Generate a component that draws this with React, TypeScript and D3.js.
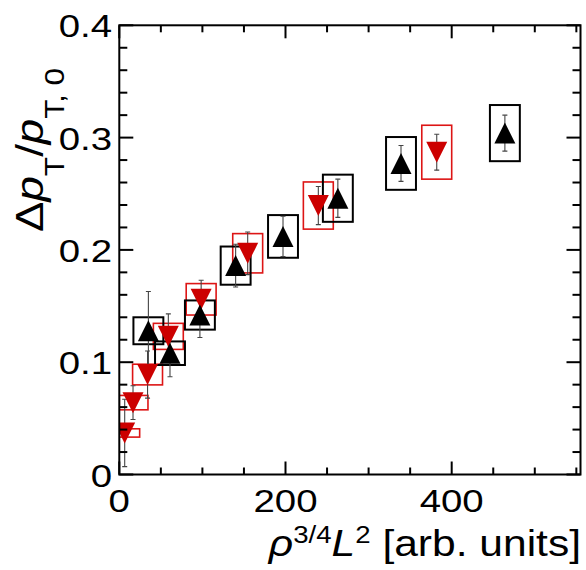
import React from 'react';
import * as d3 from 'd3';

const W = 586;
const H = 570;

// Black series (upward triangles)
const blackX = [35, 61, 97, 140, 197, 263, 339, 464];
const blackY = [0.128, 0.108, 0.142, 0.186, 0.212, 0.246, 0.277, 0.304];
const blackStat = [0.035, 0.021, 0.02, 0.019, 0.018, 0.017, 0.016, 0.016];
const blackSys = [0.012, 0.0105, 0.013, 0.017, 0.019, 0.021, 0.0235, 0.025];

// Red series (downward triangles)
const redX = [6.5, 16.5, 34, 59, 98.5, 154.5, 239.5, 382];
const redY = [0.037, 0.064, 0.089, 0.123, 0.156, 0.197, 0.2395, 0.287];
const redStat = [0.03, 0.015, 0.021, 0.02, 0.017, 0.019, 0.017, 0.016];
const redSys = [0.0037, 0.0064, 0.0092, 0.0116, 0.014, 0.0175, 0.021, 0.024];

// half-width of the systematic boxes along x
const xSysHalf = 18;

const xMajor = [0, 200, 400];
const xTickLabels = ['0', '200', '400'];
const yMajor = [0, 0.1, 0.2, 0.3, 0.4];
const yTickLabels = ['0', '0.1', '0.2', '0.3', '0.4'];

const X0 = 119.3;
const X1 = 580.5;
const Y0 = 474.5;
const Y1 = 25.3;

const FONT = '"Liberation Sans", Arial, Helvetica, sans-serif';
const RED = '#cc0000';
const RED_BOX = '#dd1515';
const ERR = '#444';

const x = d3.scaleLinear().domain([0, 555]).range([X0, X1]);
const y = d3.scaleLinear().domain([0, 0.4]).range([Y0, Y1]);

const xMinor = d3.range(0, 556, 50).filter((v) => !xMajor.includes(v));
const yMinor = d3.range(0, 0.4001, 0.02).filter(
  (v) => !yMajor.some((m) => Math.abs(m - v) < 1e-6)
);

const R = 10.5;
function triangle(cx: number, cy: number, up: boolean): string {
  const p = d3.path();
  if (up) {
    p.moveTo(cx - R, cy + R);
    p.lineTo(cx + R, cy + R);
    p.lineTo(cx, cy - R);
  } else {
    p.moveTo(cx - R, cy - R);
    p.lineTo(cx + R, cy - R);
    p.lineTo(cx, cy + R);
  }
  p.closePath();
  return p.toString();
}

type Pt = { x: number; y: number; stat: number; sys: number };
const black: Pt[] = blackX.map((v, i) => ({ x: v, y: blackY[i], stat: blackStat[i], sys: blackSys[i] }));
const red: Pt[] = redX.map((v, i) => ({ x: v, y: redY[i], stat: redStat[i], sys: redSys[i] }));

function Boxes({ data, color, sw }: { data: Pt[]; color: string; sw: number }) {
  return (
    <g fill="none" stroke={color} strokeWidth={sw}>
      {data.map((d, i) => {
        const l = Math.max(0, d.x - xSysHalf);
        const r = d.x + xSysHalf;
        return (
          <rect
            key={i}
            x={x(l)}
            y={y(d.y + d.sys)}
            width={x(r) - x(l)}
            height={y(d.y - d.sys) - y(d.y + d.sys)}
          />
        );
      })}
    </g>
  );
}

function ErrorBars({ data }: { data: Pt[] }) {
  return (
    <g stroke={ERR} strokeWidth={1.1}>
      {data.map((d, i) => {
        const cx = x(d.x);
        const t = y(d.y + d.stat);
        const b = y(Math.max(0, d.y - d.stat));
        return (
          <g key={i}>
            <line x1={cx} x2={cx} y1={t} y2={b} />
            <line x1={cx - 2.5} x2={cx + 2.5} y1={t} y2={t} />
            <line x1={cx - 2.5} x2={cx + 2.5} y1={b} y2={b} />
          </g>
        );
      })}
    </g>
  );
}

function Markers({ data, color, up }: { data: Pt[]; color: string; up: boolean }) {
  return (
    <g fill={color}>
      {data.map((d, i) => (
        <path key={i} d={triangle(x(d.x), y(d.y), up)} />
      ))}
    </g>
  );
}

const TICK_SX = 1.2;
const TICK_FS = 32;

export default function App() {
  return (
    <svg
      width={W}
      height={H}
      viewBox={`0 0 ${W} ${H}`}
      style={{ position: 'absolute', left: 0, top: 0, background: '#fff' }}
    >
      <defs>
        <clipPath id="frame">
          <rect x={X0} y={Y1} width={X1 - X0} height={Y0 - Y1} />
        </clipPath>
      </defs>

      <g clipPath="url(#frame)">
        <Boxes data={red} color={RED_BOX} sw={1.6} />
        <Boxes data={black} color="#000" sw={2} />
        <ErrorBars data={red} />
        <ErrorBars data={black} />
        <Markers data={red} color={RED} up={false} />
        <Markers data={black} color="#000" up={true} />
      </g>

      {/* frame and ticks */}
      <g stroke="#000" strokeWidth={2} fill="none">
        <rect x={X0} y={Y1} width={X1 - X0} height={Y0 - Y1} />
        {xMajor.map((v) => (
          <g key={'xM' + v}>
            <line x1={x(v)} x2={x(v)} y1={Y0} y2={Y0 - 13} />
            <line x1={x(v)} x2={x(v)} y1={Y1} y2={Y1 + 13} />
          </g>
        ))}
        {xMinor.map((v) => (
          <g key={'xm' + v}>
            <line x1={x(v)} x2={x(v)} y1={Y0} y2={Y0 - 7} />
            <line x1={x(v)} x2={x(v)} y1={Y1} y2={Y1 + 7} />
          </g>
        ))}
        {yMajor.map((v) => (
          <g key={'yM' + v}>
            <line x1={X0} x2={X0 + 14} y1={y(v)} y2={y(v)} />
            <line x1={X1} x2={X1 - 14} y1={y(v)} y2={y(v)} />
          </g>
        ))}
        {yMinor.map((v) => (
          <g key={'ym' + v}>
            <line x1={X0} x2={X0 + 8} y1={y(v)} y2={y(v)} />
            <line x1={X1} x2={X1 - 8} y1={y(v)} y2={y(v)} />
          </g>
        ))}
      </g>

      {/* tick labels */}
      <g fontFamily={FONT} fontSize={TICK_FS} fill="#000">
        {yMajor.map((v, i) => (
          <text
            key={'yl' + v}
            transform={`translate(112,${y(v) + 12}) scale(${TICK_SX},1)`}
            textAnchor="end"
          >
            {yTickLabels[i]}
          </text>
        ))}
        {xMajor.map((v, i) => (
          <text
            key={'xl' + v}
            transform={`translate(${x(v)},512) scale(${TICK_SX},1)`}
            textAnchor="middle"
          >
            {xTickLabels[i]}
          </text>
        ))}
      </g>

      {/* x title */}
      <text
        transform="translate(581,556) scale(1.15,1)"
        textAnchor="end"
        fontFamily={FONT}
        fontSize={37}
        fill="#000"
      >
        <tspan fontStyle="italic">ρ</tspan>
        <tspan fontSize={24} dy={-13}>3/4</tspan>
        <tspan fontStyle="italic" dy={13}>L</tspan>
        <tspan fontSize={24} dy={-13}>2</tspan>
        <tspan dy={13}> [arb. units]</tspan>
      </text>

      {/* y title */}
      <text
        transform="translate(43,232) rotate(-90) scale(1.17,1)"
        fontFamily={FONT}
        fontSize={39}
        fill="#000"
      >
        <tspan>Δ</tspan>
        <tspan fontStyle="italic">p</tspan>
        <tspan fontSize={27} dy={21}>T</tspan>
        <tspan dy={-21}>/</tspan>
        <tspan fontStyle="italic">p</tspan>
        <tspan fontSize={27} dy={21}>T, 0</tspan>
      </text>
    </svg>
  );
}
